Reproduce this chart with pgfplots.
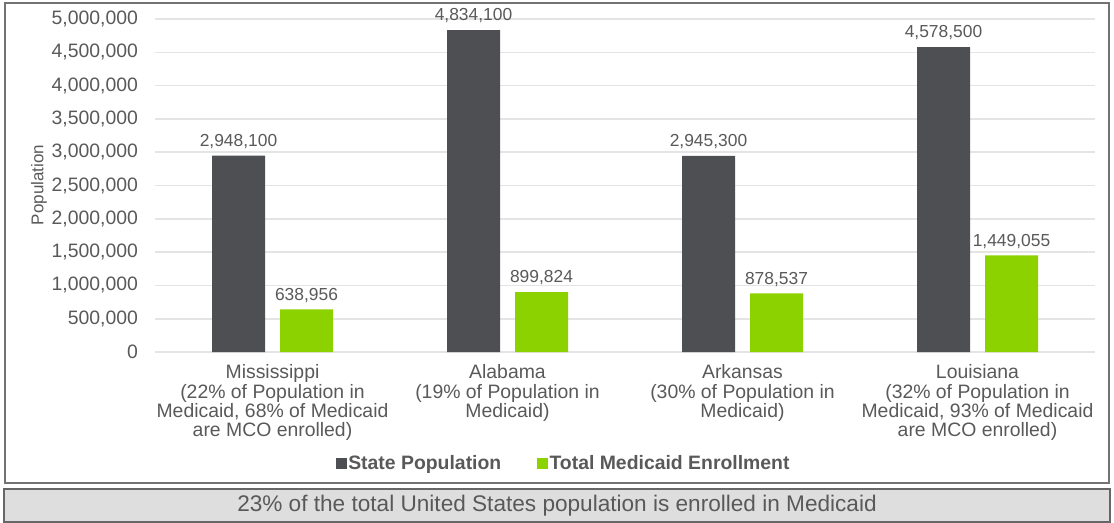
\documentclass[border=0pt]{standalone}
\usepackage{pgfplots}
\pgfplotsset{compat=1.18}
\usepackage{fontspec}
\setmainfont{Liberation Sans}
\definecolor{txt}{HTML}{595959}
\definecolor{barDark}{HTML}{4D4F52}
\definecolor{barGreen}{HTML}{8CD100}
\definecolor{gridc}{HTML}{E4E4E4}
\begin{document}
\begin{tikzpicture}
\path[use as bounding box] (0pt,0pt) rectangle (557pt,-261.5pt);
\draw[color=black!55, line width=1pt] (2.5pt,-1.5pt) rectangle (554.5pt,-241.5pt);
\draw[color=black!60, fill=black!13, line width=1pt] (2pt,-244.5pt) rectangle (555pt,-261pt);
\node[font=\fontsize{11.3}{13}\selectfont, text=txt] at (278.5pt,-252.7pt) {23\% of the total United States population is enrolled in Medicaid};
\node[rotate=90, font=\fontsize{8.5}{10}\selectfont, text=txt] at (19.5pt,-92.5pt) {Population};
\begin{axis}[
  at={(77.5pt,-176pt)}, anchor=south west,
  scale only axis, width=470pt, height=166.5pt,
  xmin=-0.5, xmax=3.5, ymin=0, ymax=5000000,
  ytick={0,500000,...,5000000},
  scaled y ticks=false,
  /pgf/number format/fixed,
  /pgf/number format/1000 sep={,},
  /pgf/number format/assume math mode=true,
  ymajorgrids, grid style={color=gridc, line width=0.8pt},
  axis line style={draw=none},
  tick style={draw=none},
  ticklabel style={font=\fontsize{9.7}{9.7}\selectfont, text=txt},
  yticklabel style={xshift=-5pt},
  xtick={0,1,2,3},
  xticklabels={{Mississippi\\(22\% of Population in\\Medicaid, 68\% of Medicaid\\are MCO enrolled)},
               {Alabama\\(19\% of Population in\\Medicaid)},
               {Arkansas\\(30\% of Population in\\Medicaid)},
               {Louisiana\\(32\% of Population in\\Medicaid, 93\% of Medicaid\\are MCO enrolled)}},
  xticklabel style={align=center, yshift=1.5pt},
  ybar, bar width=26.5pt,
  nodes near coords,
  every node near coord/.append style={font=\fontsize{8.7}{10}\selectfont, text=txt},
  legend style={at={(0.4345,-0.336)}, anchor=center, draw=none, fill=none,
     legend columns=-1, font=\bfseries\fontsize{9.7}{11}\selectfont, text=txt,
     /tikz/every even column/.append style={column sep=17pt},
     nodes={inner sep=0.8pt}},
  clip=false,
]
\addplot[fill=barDark, draw=none, bar shift=-17pt,
  legend image code/.code={\fill[barDark] (0pt,-2.75pt) rectangle (5.5pt,2.75pt);}]
  coordinates {(0,2948100) (1,4834100) (2,2945300) (3,4578500)};
\addlegendentry{State Population}
\addplot[fill=barGreen, draw=none, bar shift=17pt,
  legend image code/.code={\fill[barGreen] (0pt,-2.75pt) rectangle (5.5pt,2.75pt);}]
  coordinates {(0,638956) (1,899824) (2,878537) (3,1449055)};
\addlegendentry{Total Medicaid Enrollment}
\end{axis}
\end{tikzpicture}
\end{document}
